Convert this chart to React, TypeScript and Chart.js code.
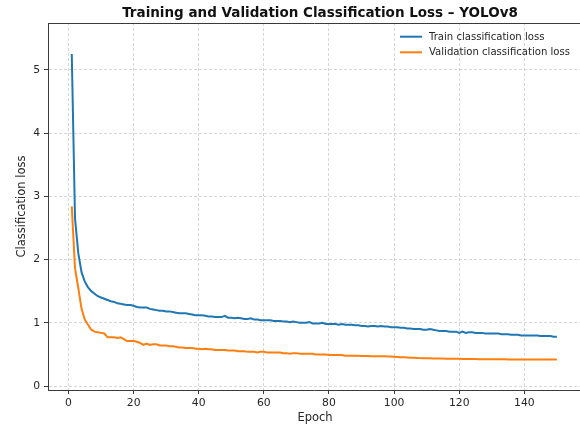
import React, { useEffect, useRef } from "react";
import { Chart, registerables } from "chart.js";

Chart.register(...registerables);

const TITLE = "Training and Validation Classification Loss – YOLOv8";
const X_LABEL = "Epoch";
const Y_LABEL = "Classification loss";
const SERIES_NAMES = ["Train classification loss", "Validation classification loss"];
const SERIES_COLORS = ["#1f77b4", "#ff7f0e"];
const X_TICKS = [0, 20, 40, 60, 80, 100, 120, 140];
const Y_TICKS = [0, 1, 2, 3, 4, 5];

const trainLoss = [
  5.25, 2.65, 2.1, 1.8, 1.65, 1.56, 1.5, 1.46, 1.42, 1.4,
  1.38, 1.36, 1.34, 1.33, 1.31, 1.3, 1.29, 1.28, 1.28, 1.27,
  1.25, 1.24, 1.24, 1.24, 1.22, 1.21, 1.2, 1.19, 1.19, 1.18,
  1.18, 1.17, 1.16, 1.15, 1.15, 1.15, 1.14, 1.13, 1.12, 1.12,
  1.12, 1.11, 1.1, 1.1, 1.09, 1.09, 1.09, 1.11, 1.08, 1.08,
  1.07, 1.08, 1.07, 1.06, 1.06, 1.07, 1.05, 1.05, 1.04, 1.04,
  1.04, 1.04, 1.03, 1.03, 1.03, 1.02, 1.02, 1.01, 1.02, 1.01,
  1.0, 1.0, 1.0, 1.01, 0.99, 0.99, 0.99, 1.0, 0.98, 0.98,
  0.98, 0.98, 0.97, 0.98, 0.97, 0.97, 0.97, 0.96, 0.96, 0.95,
  0.95, 0.94, 0.95, 0.95, 0.94, 0.95, 0.94, 0.94, 0.93, 0.93,
  0.93, 0.92, 0.92, 0.91, 0.91, 0.9, 0.9, 0.9, 0.89, 0.89,
  0.9, 0.89, 0.88, 0.87, 0.87, 0.87, 0.86, 0.86, 0.86, 0.84,
  0.86, 0.84, 0.85, 0.85, 0.84, 0.84, 0.84, 0.83, 0.83, 0.83,
  0.83, 0.83, 0.82, 0.82, 0.82, 0.81, 0.81, 0.81, 0.8, 0.8,
  0.8, 0.8, 0.8, 0.8, 0.79, 0.79, 0.79, 0.79, 0.78, 0.78,
];

const valLoss = [
  2.84, 1.86, 1.55, 1.22, 1.05, 0.97, 0.89, 0.86, 0.85, 0.84,
  0.83, 0.77, 0.77, 0.77, 0.76, 0.77, 0.74, 0.71, 0.71, 0.71,
  0.7, 0.68, 0.65, 0.67, 0.65, 0.66, 0.66, 0.64, 0.64, 0.64,
  0.63, 0.63, 0.62, 0.61, 0.61, 0.6, 0.6, 0.6, 0.59, 0.59,
  0.58, 0.59, 0.58, 0.58, 0.57, 0.57, 0.57, 0.57, 0.56, 0.56,
  0.56, 0.55, 0.55, 0.55, 0.54, 0.54, 0.54, 0.53, 0.54, 0.54,
  0.53, 0.53, 0.53, 0.53, 0.53, 0.52, 0.52, 0.51, 0.52, 0.52,
  0.51, 0.51, 0.51, 0.51, 0.51, 0.5, 0.5, 0.5, 0.5, 0.49,
  0.49, 0.49, 0.49, 0.49, 0.48, 0.48, 0.48, 0.48, 0.48, 0.475,
  0.475, 0.473, 0.472, 0.471, 0.47, 0.47, 0.469, 0.468, 0.466, 0.464,
  0.46, 0.456, 0.453, 0.45, 0.447, 0.445, 0.443, 0.441, 0.44, 0.439,
  0.438, 0.437, 0.436, 0.435, 0.434, 0.433, 0.432, 0.431, 0.43, 0.43,
  0.429, 0.428, 0.427, 0.426, 0.426, 0.425, 0.425, 0.424, 0.424, 0.423,
  0.423, 0.422, 0.422, 0.422, 0.421, 0.421, 0.421, 0.42, 0.42, 0.42,
  0.42, 0.419, 0.419, 0.419, 0.419, 0.418, 0.418, 0.418, 0.418, 0.418,
];

const epochs = trainLoss.map((_, i) => i + 1);

const FONT = "'DejaVu Sans', 'Liberation Sans', sans-serif";
const TEXT_COLOR = "#262626";
const SPINE_COLOR = "#3a3a3a";
const GRID_COLOR = "rgba(176,176,176,0.5)";

const decorPlugin = {
  id: "decor",
  afterDraw(chart: any) {
    const { ctx, chartArea } = chart;
    const { left, top, right, bottom } = chartArea;
    ctx.save();
    ctx.strokeStyle = SPINE_COLOR;
    ctx.lineWidth = 1;
    ctx.setLineDash([]);
    ctx.beginPath();
    ctx.moveTo(left, top + 0.5);
    ctx.lineTo(right + 2, top + 0.5);
    ctx.stroke();

    ctx.fillStyle = "#111";
    ctx.font = `bold 13.5px ${FONT}`;
    ctx.textAlign = "center";
    ctx.textBaseline = "middle";
    ctx.fillText(TITLE, 320, 13);

    ctx.fillStyle = TEXT_COLOR;
    ctx.font = `11.5px ${FONT}`;
    ctx.fillText(X_LABEL, (left + right) / 2 + 1, 418);
    ctx.save();
    ctx.translate(22, (top + bottom) / 2);
    ctx.rotate(-Math.PI / 2);
    ctx.fillText(Y_LABEL, 0, 0);
    ctx.restore();

    ctx.font = `10.1px ${FONT}`;
    ctx.textAlign = "left";
    const rows = [36.7, 52.3];
    SERIES_NAMES.forEach((name, i) => {
      ctx.strokeStyle = SERIES_COLORS[i];
      ctx.lineWidth = 2;
      ctx.beginPath();
      ctx.moveTo(400, rows[i]);
      ctx.lineTo(422, rows[i]);
      ctx.stroke();
      ctx.fillStyle = TEXT_COLOR;
      ctx.fillText(name, 429, rows[i] + 0.5);
    });
    ctx.restore();
  },
};

const axisCommon = {
  grid: {
    color: GRID_COLOR,
    lineWidth: 1,
    drawTicks: true,
    tickLength: 4,
    tickColor: SPINE_COLOR,
    tickBorderDash: [],
    tickWidth: 1,
  },
  border: { display: true, color: SPINE_COLOR, width: 1, dash: [3, 2] },
};

export default function App() {
  const canvasRef = useRef<HTMLCanvasElement | null>(null);

  useEffect(() => {
    const canvas = canvasRef.current;
    if (!canvas) return;
    const chart = new Chart(canvas, {
      type: "line",
      data: {
        datasets: [
          {
            label: SERIES_NAMES[0],
            data: epochs.map((e, i) => ({ x: e, y: trainLoss[i] })),
            borderColor: SERIES_COLORS[0],
            backgroundColor: SERIES_COLORS[0],
            borderWidth: 2,
            pointRadius: 0,
            tension: 0,
          },
          {
            label: SERIES_NAMES[1],
            data: epochs.map((e, i) => ({ x: e, y: valLoss[i] })),
            borderColor: SERIES_COLORS[1],
            backgroundColor: SERIES_COLORS[1],
            borderWidth: 2,
            pointRadius: 0,
            tension: 0,
          },
        ],
      },
      options: {
        responsive: false,
        animation: false,
        devicePixelRatio: 1,
        layout: { padding: { top: 23, left: 0, right: 0, bottom: 0 } },
        plugins: {
          legend: { display: false },
          title: { display: false },
          tooltip: { enabled: false },
        },
        scales: {
          x: {
            type: "linear",
            min: -6.3,
            max: 157.1,
            afterBuildTicks: (scale: any) => {
              scale.ticks = X_TICKS.map((v) => ({ value: v }));
            },
            afterFit: (scale: any) => {
              scale.height = 38;
            },
            ...axisCommon,
            ticks: {
              color: TEXT_COLOR,
              font: { family: FONT, size: 10.8 },
              padding: 3,
              maxRotation: 0,
              autoSkip: false,
              includeBounds: false,
            },
          },
          y: {
            type: "linear",
            min: -0.063,
            max: 5.74,
            afterBuildTicks: (scale: any) => {
              scale.ticks = Y_TICKS.map((v) => ({ value: v }));
            },
            afterFit: (scale: any) => {
              scale.width = 48;
            },
            ...axisCommon,
            ticks: {
              color: TEXT_COLOR,
              font: { family: FONT, size: 10.8 },
              padding: 4,
              autoSkip: false,
              includeBounds: false,
            },
          },
        },
      },
      plugins: [decorPlugin],
    } as any);
    return () => chart.destroy();
  }, []);

  return (
    <div style={{ position: "fixed", left: 0, top: 0, width: 580, height: 428, background: "#fff" }}>
      <canvas ref={canvasRef} width={580} height={428} style={{ width: 580, height: 428, display: "block" }} />
    </div>
  );
}
